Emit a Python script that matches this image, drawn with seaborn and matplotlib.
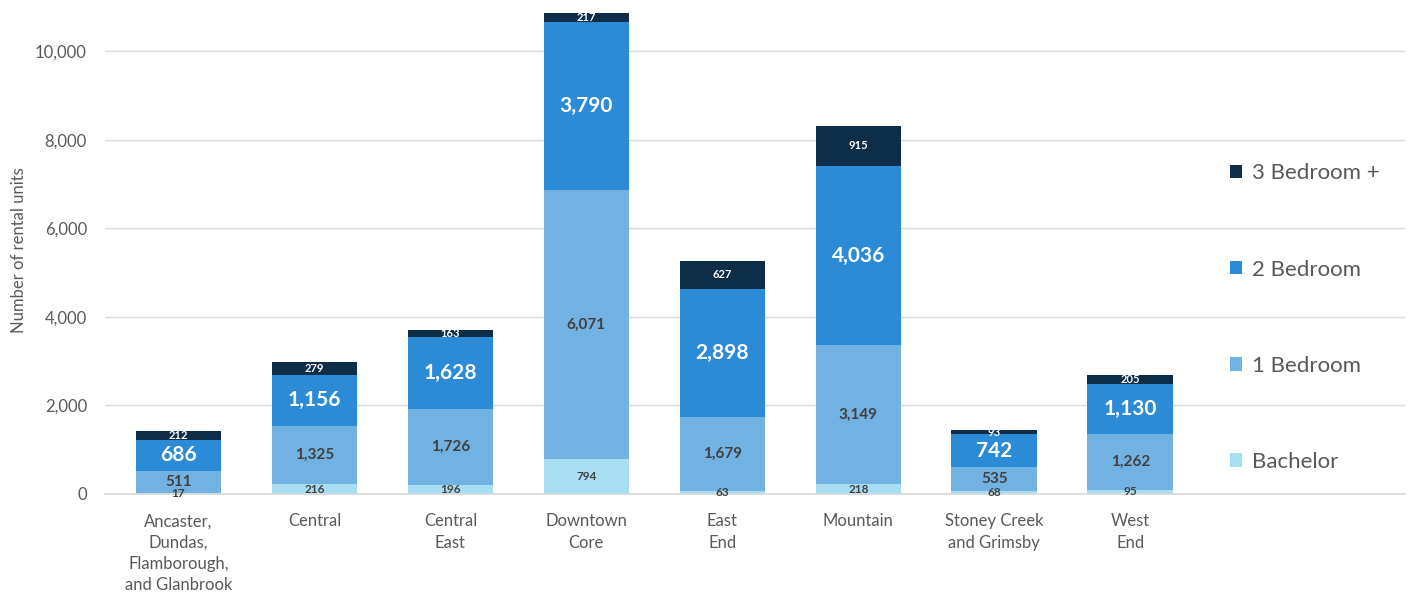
import matplotlib
matplotlib.use("Agg")
import matplotlib.pyplot as plt
import seaborn as sns
import pandas as pd
import numpy as np
from matplotlib.patches import Patch

areas = ["Ancaster,\nDundas,\nFlamborough,\nand Glanbrook", "Central", "Central\nEast",
         "Downtown\nCore", "East\nEnd", "Mountain", "Stoney Creek\nand Grimsby", "West\nEnd"]
bachelor = [17, 216, 196, 794, 63, 218, 68, 95]
one_bed = [511, 1325, 1726, 6071, 1679, 3149, 535, 1262]
two_bed = [686, 1156, 1628, 3790, 2898, 4036, 742, 1130]
three_bed = [212, 279, 163, 217, 627, 915, 93, 205]
series_names = ["Bachelor", "1 Bedroom", "2 Bedroom", "3 Bedroom +"]
y_ticks = [0, 2000, 4000, 6000, 8000, 10000]

colors = ["#a8def2", "#72b2e2", "#2b8bd6", "#0d2d48"]
label_colors = ["#404040", "#404040", "white", "white"]
label_sizes = [8.5, 11, 15, 8]

sns.set_theme(style="white")
plt.rcParams['font.family'] = ['Lato', 'DejaVu Sans']

fig = plt.figure(figsize=(14.10, 6.01), dpi=100)
ax = fig.add_axes([105/1410, 107/601, 1300/1410, 487/601])

values = [bachelor, one_bed, two_bed, three_bed]
bottom = np.zeros(len(areas))
for name, vals, col, lc, ls in zip(series_names, values, colors, label_colors, label_sizes):
    df = pd.DataFrame({"area": areas, "v": vals})
    sns.barplot(data=df, x="area", y="v", color=col, bottom=bottom, width=0.63,
                ax=ax, saturation=1, edgecolor="none", linewidth=0)
    for i, v in enumerate(vals):
        ax.text(i, bottom[i] + v / 2, f"{v:,}", ha="center", va="center",
                color=lc, fontsize=ls, fontweight="bold")
    bottom = bottom + np.array(vals)

ax.set_xlim(-0.54, 9.02)
ax.set_ylim(0, 11000)
ax.set_yticks(y_ticks)
ax.set_yticklabels([f"{t:,}" for t in y_ticks])
ax.yaxis.grid(True, color="#d9d9d9", linewidth=1)
ax.set_axisbelow(True)
for s in ["top", "right", "left"]:
    ax.spines[s].set_visible(False)
ax.spines["bottom"].set_color("#d9d9d9")
ax.tick_params(axis="both", length=0, colors="#595959", labelsize=12)
ax.tick_params(axis="y", pad=13)
ax.tick_params(axis="x", pad=14)
for t in ax.get_xticklabels():
    t.set_linespacing(1.4)
ax.set_xlabel("")
ax.set_ylabel("Number of rental units", color="#595959", fontsize=12, labelpad=6)

handles = [Patch(facecolor=c, edgecolor="none") for c in colors[::-1]]
leg = ax.legend(handles, series_names[::-1], loc="center left",
                bbox_to_anchor=(0.8565, 0.362), frameon=False, fontsize=16,
                labelspacing=3.43, handlelength=0.55, handleheight=0.55,
                handletextpad=0.45, borderpad=0)
for t in leg.get_texts():
    t.set_color("#595959")

fig.savefig("out.png", dpi=100)
